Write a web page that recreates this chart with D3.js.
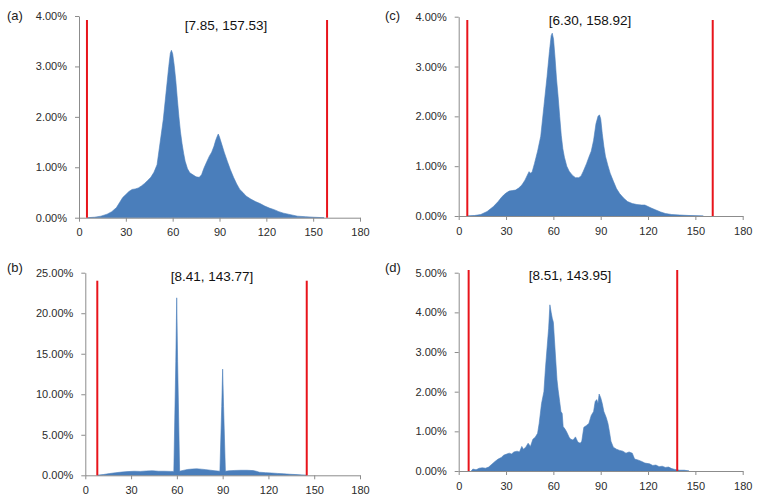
<!DOCTYPE html>
<html>
<head>
<meta charset="utf-8">
<script src="https://cdn.jsdelivr.net/npm/d3@7"></script>
<style>
  html, body { margin: 0; padding: 0; background: #fff; }
  svg { display: block; font-family: "Liberation Sans", Arial, sans-serif; }
</style>
</head>
<body>
<svg id="chart" width="762" height="503"></svg>
<script>
// ---------------- DATA ----------------
const xTickValues = [0, 30, 60, 90, 120, 150, 180];

const panelLetters = ["(a)", "(b)", "(c)", "(d)"];
const rangeLabels = ["[7.85, 157.53]", "[8.41, 143.77]", "[6.30, 158.92]", "[8.51, 143.95]"];

const yTicksA = [0, 1, 2, 3, 4];
const yTicksB = [0, 5, 10, 15, 20, 25];
const yTicksC = [0, 1, 2, 3, 4];
const yTicksD = [0, 1, 2, 3, 4, 5];

// red limit lines (angle, as drawn)
const limitsA = [5.1, 158.9];
const limitsB = [7.86, 145.1];
const limitsC = [5.45, 161.0];
const limitsD = [6.3, 138.5];

// histogram series: [angle, percent]
const seriesA = [[5.5,0],[10,0.01],[14,0.03],[18,0.07],[21,0.12],[24,0.2],[26,0.3],[28,0.4],[30,0.46],[32,0.52],[34,0.56],[36,0.57],[38,0.59],[40,0.63],[42,0.68],[44,0.74],[46,0.8],[48,0.9],[50,1.05],[52,1.5],[54,1.95],[56,2.55],[57.5,3.0],[58.5,3.26],[59.2,3.32],[60,3.25],[61,3.02],[62,2.72],[63,2.35],[64,2.0],[65,1.7],[66,1.47],[67,1.28],[68,1.12],[69.5,0.97],[71,0.89],[73,0.85],[75,0.81],[77,0.8],[78.5,0.85],[80,0.98],[82,1.12],[83.5,1.22],[85,1.3],[86.5,1.42],[87.5,1.53],[88.5,1.61],[89.2,1.66],[90,1.6],[91,1.5],[92,1.4],[93,1.3],[95,1.12],[97,0.95],[99,0.8],[101,0.67],[103,0.56],[105,0.5],[107,0.43],[110,0.37],[113,0.32],[116,0.28],[119,0.23],[122,0.19],[125,0.16],[128,0.12],[131,0.09],[134,0.07],[137,0.05],[140,0.03],[145,0.02],[150,0.01],[157,0]];

const seriesB = [[8,0],[12,0.1],[16,0.22],[20,0.32],[24,0.4],[28,0.46],[32,0.5],[36,0.48],[40,0.53],[44,0.56],[48,0.5],[52,0.5],[56,0.48],[58,0.48],[59.3,14],[59.9,21.9],[60.5,14],[61.8,0.5],[64,0.6],[67,0.72],[70,0.77],[73,0.8],[76,0.76],[79,0.7],[82,0.63],[85,0.55],[88.2,0.5],[89.4,8.5],[90,13.1],[90.6,8.5],[91.8,0.5],[94,0.55],[98,0.6],[102,0.62],[106,0.62],[110,0.58],[112,0.5],[114,0.38],[118,0.33],[122,0.28],[126,0.23],[130,0.18],[134,0.13],[138,0.09],[142,0.04],[145,0]];

const seriesC = [[5.5,0],[10,0.01],[14,0.03],[18,0.09],[22,0.19],[25,0.29],[27,0.37],[28.5,0.42],[30,0.46],[32,0.5],[34,0.51],[36,0.52],[38,0.56],[40,0.62],[42,0.72],[43.5,0.82],[44.6,0.89],[45.5,0.86],[46.5,0.88],[48,1.05],[50,1.3],[52,1.6],[54,2.2],[56,2.8],[57.5,3.3],[58.6,3.62],[59.3,3.67],[60.1,3.55],[61,3.2],[62,2.75],[63,2.4],[64,2.0],[65,1.62],[66,1.35],[67,1.18],[68.5,1.0],[70,0.9],[72,0.82],[74,0.77],[76,0.77],[77.5,0.8],[79,0.9],[81,1.05],[82.5,1.18],[84,1.3],[85.5,1.52],[87,1.85],[88.3,2.0],[89.2,2.03],[90,1.95],[91,1.65],[92,1.4],[93,1.2],[94.5,1.02],[96,0.86],[98,0.7],[100,0.55],[102,0.45],[104.5,0.36],[107,0.29],[110,0.25],[113,0.23],[116,0.22],[118,0.22],[120,0.19],[122,0.16],[125,0.12],[128,0.08],[131,0.05],[135,0.03],[140,0.02],[146,0.01],[155,0]];

const seriesD = [[8,0],[9,0.05],[11,0.03],[13,0.07],[15,0.08],[17,0.07],[19,0.1],[21,0.17],[23,0.24],[25,0.3],[27,0.34],[28.5,0.4],[30,0.42],[32,0.45],[33.5,0.43],[35,0.48],[37,0.5],[38.5,0.48],[40,0.62],[41,0.55],[42.5,0.6],[44,0.7],[45.5,0.62],[47,0.8],[48.5,0.85],[50,0.95],[51,1.2],[52.5,1.7],[54,2.0],[55,2.6],[56,3.1],[57,3.6],[57.8,4.19],[58.6,4.0],[59.3,3.85],[60,3.75],[60.7,3.3],[61.5,2.8],[62.3,2.3],[63,2.05],[64,1.75],[64.8,1.5],[65.6,1.45],[66.2,1.12],[67.5,1.05],[68.5,0.98],[70,0.85],[71,0.8],[72.5,0.78],[74,0.86],[75.5,0.73],[77,0.7],[78,0.75],[79.3,1.1],[81,1.15],[82.5,1.2],[84,1.4],[85.5,1.5],[86.5,1.75],[87.5,1.8],[88.3,1.7],[89,1.94],[90,1.85],[91,1.7],[92,1.5],[93.5,1.35],[94.6,1.2],[95.5,1.0],[96.5,0.75],[98,0.6],[100,0.55],[102,0.52],[104,0.5],[106,0.45],[108,0.48],[110,0.45],[111.5,0.3],[113.5,0.28],[116,0.24],[118,0.2],[121,0.18],[123,0.14],[125,0.15],[127,0.11],[129,0.12],[131,0.09],[133,0.1],[135,0.06],[137,0.04],[140,0.02],[143,0.02],[146,0]];

// ---------------- LAYOUT ----------------
const panels = [
  { series: seriesA, yTicks: yTicksA, limits: limitsA, letter: panelLetters[0], label: rangeLabels[0],
    x0: 79, x1: 360, yBot: 217.7, yTop: 16, redTop: 20, letterPos: [7, 20], labelPos: [226, 30] },
  { series: seriesB, yTicks: yTicksB, limits: limitsB, letter: panelLetters[1], label: rangeLabels[1],
    x0: 85.3, x1: 360, yBot: 475.3, yTop: 272.7, redTop: 280.7, letterPos: [7, 272], labelPos: [212, 281] },
  { series: seriesC, yTicks: yTicksC, limits: limitsC, letter: panelLetters[2], label: rangeLabels[2],
    x0: 458.7, x1: 742.7, yBot: 216, yTop: 16.7, redTop: 20, letterPos: [385, 20], labelPos: [590, 25] },
  { series: seriesD, yTicks: yTicksD, limits: limitsD, letter: panelLetters[3], label: rangeLabels[3],
    x0: 458.7, x1: 742.7, yBot: 471, yTop: 272.7, redTop: 270, letterPos: [385, 272], labelPos: [570, 280] }
];

const svg = d3.select("#chart");
svg.append("rect").attr("width", 762).attr("height", 503).attr("fill", "#fff");

const fmt = v => d3.format(".2f")(v) + "%";

panels.forEach(p => {
  const x = d3.scaleLinear().domain([0, 180]).range([p.x0, p.x1]);
  const yMax = p.yTicks[p.yTicks.length - 1];
  const y = d3.scaleLinear().domain([0, yMax]).range([p.yBot, p.yTop]);
  const g = svg.append("g");

  const area = d3.area()
    .x(d => x(d[0]))
    .y0(y(0))
    .y1(d => y(d[1]))
    .curve(d3.curveLinear);
  g.append("path").datum(p.series)
    .attr("d", area)
    .attr("fill", "#4a7ebb")
    .attr("stroke", "#4a7ebb")
    .attr("stroke-width", 0.6);

  const yAxis = d3.axisLeft(y).tickValues(p.yTicks).tickFormat(fmt)
    .tickSizeInner(4).tickSizeOuter(0).tickPadding(8);
  const xAxis = d3.axisBottom(x).tickValues(xTickValues).tickFormat(d3.format("d"))
    .tickSizeInner(4).tickSizeOuter(0).tickPadding(7);

  const ya = g.append("g").attr("transform", `translate(${p.x0},0)`).call(yAxis);
  const xa = g.append("g").attr("transform", `translate(0,${p.yBot})`).call(xAxis);
  [ya, xa].forEach(a => {
    a.select(".domain").attr("stroke", "#8c8c8c");
    a.selectAll(".tick line").attr("stroke", "#8c8c8c");
    a.selectAll(".tick text").attr("fill", "#2b2b2b").style("font-size", "11px")
      .style("font-family", "'Liberation Sans', Arial, sans-serif");
  });

  g.selectAll(".limit").data(p.limits).enter().append("line")
    .attr("x1", d => x(d)).attr("x2", d => x(d))
    .attr("y1", p.redTop).attr("y2", y(0))
    .attr("stroke", "#e8141b").attr("stroke-width", 2);

  g.append("text").attr("x", p.letterPos[0]).attr("y", p.letterPos[1])
    .attr("font-size", 13).attr("fill", "#222").text(p.letter);
  g.append("text").attr("x", p.labelPos[0]).attr("y", p.labelPos[1])
    .attr("text-anchor", "middle").attr("font-size", 13.5).attr("fill", "#111").text(p.label);
});
</script>
</body>
</html>
